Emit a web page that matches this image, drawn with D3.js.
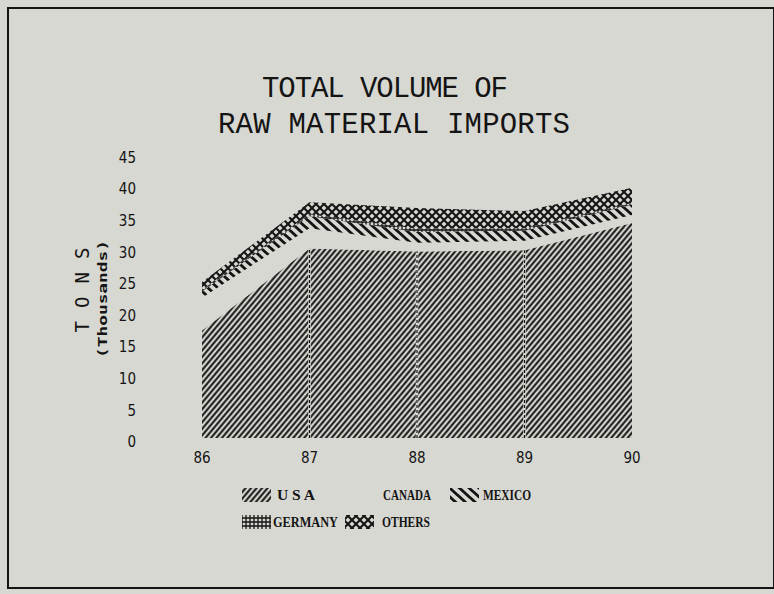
<!DOCTYPE html>
<html>
<head>
<meta charset="utf-8">
<script src="https://cdn.jsdelivr.net/npm/d3@7"></script>
<style>
  html, body { margin: 0; padding: 0; background: #d8d8d2; }
  svg { display: block; }
</style>
</head>
<body>
<div id="chart"></div>
<script>
// data (thousands of tons)
var years = ["86", "87", "88", "89", "90"];
var usa = [17, 30, 29.5, 29.7, 34];
var canada = [5.2, 3.2, 1.4, 1.5, 1.3];
var mexico = [1.0, 1.9, 1.7, 1.6, 1.6];
var germany = [0.3, 0.3, 0.5, 0.4, 0.3];
var others = [1.2, 1.9, 3.3, 2.7, 2.4];
var yTicks = [0, 5, 10, 15, 20, 25, 30, 35, 40, 45];
var seriesNames = ["USA", "CANADA", "MEXICO", "GERMANY", "OTHERS"];

var W = 774, H = 594;
var ink = "#141414", paper = "#d8d8d2";

var svg = d3.select("#chart").append("svg")
  .attr("width", W)
  .attr("height", H);

svg.append("rect").attr("width", W).attr("height", H).attr("fill", paper);

// frame of the scanned page
svg.append("rect")
  .attr("x", 8).attr("y", 8)
  .attr("width", 766).attr("height", 580)
  .attr("fill", "none")
  .attr("stroke", ink)
  .attr("stroke-width", 2);

// hatch patterns
var defs = svg.append("defs");

var makeLines = function(id, size, angle, width) {
  var p = defs.append("pattern")
    .attr("id", id)
    .attr("patternUnits", "userSpaceOnUse")
    .attr("width", size).attr("height", size)
    .attr("patternTransform", "rotate(" + angle + ")");
  p.append("line")
    .attr("x1", size / 2).attr("y1", 0)
    .attr("x2", size / 2).attr("y2", size)
    .attr("stroke", ink)
    .attr("stroke-width", width);
};
makeLines("pat-usa", 4.2, 40, 2.0);
makeLines("pat-mexico", 6.5, -48, 2.8);

var grid = defs.append("pattern")
  .attr("id", "pat-germany")
  .attr("patternUnits", "userSpaceOnUse")
  .attr("width", 4).attr("height", 4);
grid.append("path")
  .attr("d", "M0,2H4M2,0V4")
  .attr("stroke", ink)
  .attr("stroke-width", 1.3);

var cross = defs.append("pattern")
  .attr("id", "pat-others")
  .attr("patternUnits", "userSpaceOnUse")
  .attr("width", 8).attr("height", 8);
cross.append("path")
  .attr("d", "M0,0L8,8M8,0L0,8")
  .attr("stroke", ink)
  .attr("stroke-width", 2.1);

var fills = {
  USA: "url(#pat-usa)",
  CANADA: paper,
  MEXICO: "url(#pat-mexico)",
  GERMANY: "url(#pat-germany)",
  OTHERS: "url(#pat-others)"
};

// table for d3.stack
var table = years.map(function(yr, i) {
  return { year: yr, USA: usa[i], CANADA: canada[i], MEXICO: mexico[i], GERMANY: germany[i], OTHERS: others[i] };
});
var stacked = d3.stack().keys(seriesNames)(table);

var x = d3.scalePoint().domain(years).range([202, 632]);
var y = d3.scaleLinear().domain([0, 45]).range([438, 153.6]);

var area = d3.area()
  .x(function(d) { return x(d.data.year); })
  .y0(function(d) { return y(d[0]); })
  .y1(function(d) { return y(d[1]); });

svg.selectAll("path.layer")
  .data(stacked)
  .enter().append("path")
  .attr("class", "layer")
  .attr("d", area)
  .attr("fill", function(d) { return fills[d.key]; });

// dashed seams at the inner years
var inner = years.slice(1, years.length - 1);
inner.forEach(function(yr, k) {
  var i = k + 1;
  svg.append("line")
    .attr("x1", x(yr)).attr("x2", x(yr))
    .attr("y1", y(0)).attr("y2", y(usa[i]))
    .attr("stroke", paper).attr("stroke-width", 2.5);
  svg.append("line")
    .attr("x1", x(yr)).attr("x2", x(yr))
    .attr("y1", y(0)).attr("y2", y(usa[i]))
    .attr("stroke", ink).attr("stroke-width", 1.2)
    .attr("stroke-dasharray", "3,2");
});

// title
var title = svg.append("g")
  .attr("font-family", "'Liberation Mono', 'DejaVu Sans Mono', monospace")
  .attr("font-size", 29)
  .attr("fill", ink)
  .attr("text-anchor", "middle");
title.append("text").attr("x", 385).attr("y", 97).attr("textLength", 246).text("TOTAL VOLUME OF");
title.append("text").attr("x", 394).attr("y", 133).attr("textLength", 352).text("RAW MATERIAL IMPORTS");

// y tick labels
svg.append("g")
  .attr("font-family", "'DejaVu Sans Condensed', 'DejaVu Sans', sans-serif")
  .attr("font-size", 15)
  .attr("fill", ink)
  .attr("text-anchor", "end")
  .selectAll("text")
  .data(yTicks)
  .enter().append("text")
  .attr("x", 136)
  .attr("y", function(d) { return y(d) + 4; })
  .attr("dy", "0.35em")
  .text(function(d) { return d; });

// x tick labels
svg.append("g")
  .attr("font-family", "'DejaVu Sans Condensed', 'DejaVu Sans', sans-serif")
  .attr("font-size", 15)
  .attr("fill", ink)
  .attr("text-anchor", "middle")
  .selectAll("text")
  .data(years)
  .enter().append("text")
  .attr("x", function(d) { return x(d); })
  .attr("y", 458)
  .attr("dy", "0.35em")
  .text(function(d) { return d; });

// axis titles
svg.append("text")
  .attr("transform", "translate(82,290) rotate(-90)")
  .attr("text-anchor", "middle")
  .attr("dy", "0.35em")
  .attr("font-family", "'DejaVu Sans Mono', monospace")
  .attr("font-size", 19)
  .attr("fill", ink)
  .attr("textLength", 85)
  .text("T O N S");
svg.append("text")
  .attr("transform", "translate(103,299) rotate(-90)")
  .attr("text-anchor", "middle")
  .attr("dy", "0.35em")
  .attr("font-family", "'DejaVu Sans Mono', monospace")
  .attr("font-weight", "bold")
  .attr("font-size", 12)
  .attr("fill", ink)
  .attr("textLength", 118)
  .attr("lengthAdjust", "spacingAndGlyphs")
  .text("(Thousands)");

// legend
var legendItems = [
  { key: "USA", label: "U S A", sx: 242, tx: 277, tw: 38, row: 0, swatch: true },
  { key: "CANADA", label: "CANADA", sx: 350, tx: 383, tw: 48, row: 0, swatch: false },
  { key: "MEXICO", label: "MEXICO", sx: 450, tx: 483, tw: 48, row: 0, swatch: true },
  { key: "GERMANY", label: "GERMANY", sx: 242, tx: 273, tw: 65, row: 1, swatch: true },
  { key: "OTHERS", label: "OTHERS", sx: 345, tx: 382, tw: 48, row: 1, swatch: true }
];
var rowY = [495, 522];
var legend = svg.append("g");
legendItems.forEach(function(d) {
  if (d.swatch) {
    legend.append("rect")
      .attr("x", d.sx).attr("y", rowY[d.row] - 7)
      .attr("width", 29).attr("height", 14)
      .attr("fill", fills[d.key]);
  }
  legend.append("text")
    .attr("x", d.tx).attr("y", rowY[d.row])
    .attr("dy", "0.35em")
    .attr("font-family", "'Liberation Serif', 'DejaVu Serif', serif")
    .attr("font-weight", "bold")
    .attr("font-size", 14)
    .attr("fill", ink)
    .attr("textLength", d.tw)
    .attr("lengthAdjust", "spacingAndGlyphs")
    .text(d.label);
});
</script>
</body>
</html>
